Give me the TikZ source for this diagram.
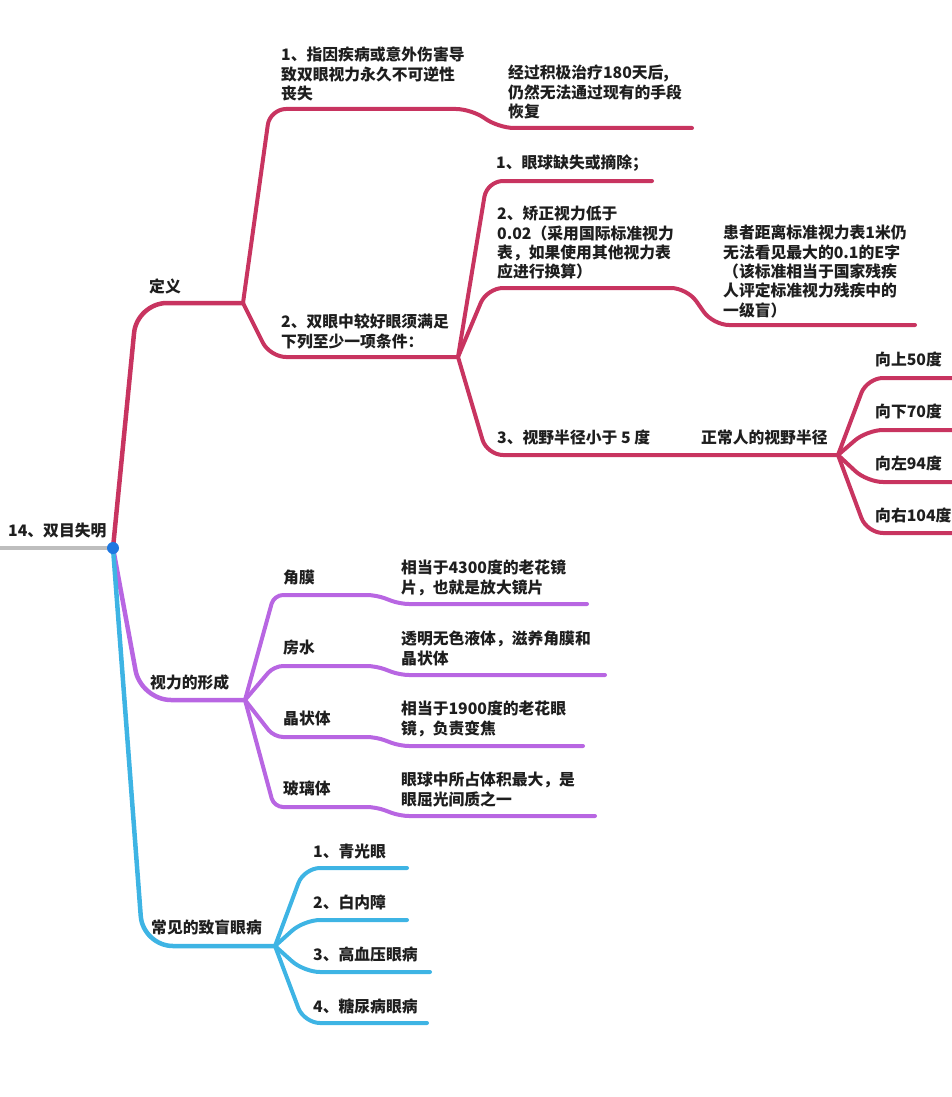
\documentclass[tikz,border=0pt]{standalone}
\usepackage{fontspec}
\setmainfont{Noto Sans CJK SC}
\definecolor{cr}{RGB}{200,52,96}
\definecolor{pu}{RGB}{184,102,226}
\definecolor{bl}{RGB}{62,180,228}
\definecolor{grl}{RGB}{190,190,190}
\definecolor{dotc}{RGB}{30,120,225}
\definecolor{ink}{RGB}{30,30,30}
\tikzset{
  txt/.style={anchor=north west, inner sep=0pt, align=left, text=ink,
    font=\fontsize{15.8}{19.3}\selectfont\bfseries},
  br/.style={line width=4pt, line cap=round, line join=round, rounded corners=16pt},
  mainbr/.style={line width=4.5pt, line cap=round, line join=round, rounded corners=30pt},
  leafstep/.style={line width=4pt, line cap=round, line join=round, rounded corners=9pt},
}
\begin{document}
\begin{tikzpicture}[x=1pt,y=-1pt]
\useasboundingbox (0,0) rectangle (952,1097);
% ---------- coordinates ----------
\coordinate (G) at (0,548);
\coordinate (D) at (113,548);
\coordinate (J1) at (243,303);
\coordinate (J2) at (458,357);
\coordinate (J3) at (838,455);
\coordinate (JP) at (245,700);
\coordinate (JB) at (275,946);
% ---------- root ----------
\draw[grl, line width=4pt] (G) -- (D);
\node[txt] (root) at (8,523) {14、双目失明};
% ---------- 定义 ----------
\draw[cr, mainbr] (D) -- (137,303) -- (J1);
\node[txt] (dy) at (149,279) {定义};
\coordinate (e11) at (692,128);
\draw[cr, br] (J1) -- (270,109) -- (472,109) -- (498,128) -- (e11);
\node[txt] (d1) at (281,47) {1、指因疾病或意外伤害导\\致双眼视力永久不可逆性\\丧失};
\node[txt] (d1a) at (508,65) {经过积极治疗180天后,\\仍然无法通过现有的手段\\恢复};
\draw[cr, br] (J1) -- (270,357) -- (J2);
\node[txt] (d2) at (281,314) {2、双眼中较好眼须满足\\下列至少一项条件：};
\coordinate (e21) at (652,181);
\draw[cr, br] (J2) -- (487,181) -- (e21);
\node[txt] (d21) at (496,155) {1、眼球缺失或摘除；};
\coordinate (e22) at (915,325);
\draw[cr, br] (J2) -- (487,288) -- (687,288) -- (713,325) -- (e22);
\node[txt] (d22) at (497,206) {2、矫正视力低于\\0.02（采用国际标准视力\\表，如果使用其他视力表\\应进行换算）};
\node[txt] (d22a) at (723,225) {患者距离标准视力表1米仍\\无法看见最大的0.1的E字\\（该标准相当于国家残疾\\人评定标准视力残疾中的\\一级盲）};
\draw[cr, br] (J2) -- (487,455) -- (J3);
\node[txt] (d23) at (497,430) {3、视野半径小于 5 度};
\node[txt] (d23a) at (701,430) {正常人的视野半径};
\coordinate (e31) at (952,378);
\coordinate (e32) at (952,430);
\coordinate (e33) at (952,482);
\coordinate (e34) at (952,533);
\draw[cr, br] (J3) -- (867,378) -- (e31);
\draw[cr, br] (J3) -- (867,430) -- (e32);
\draw[cr, br] (J3) -- (867,482) -- (e33);
\draw[cr, br] (J3) -- (867,533) -- (e34);
\node[txt] (v1) at (875,352) {向上50度};
\node[txt] (v2) at (875,404) {向下70度};
\node[txt] (v3) at (875,456) {向左94度};
\node[txt] (v4) at (875,508) {向右104度};
% ---------- 视力的形成 ----------
\draw[pu, mainbr] (D) -- (141,700) -- (JP);
\node[txt] (sl) at (150,675) {视力的形成};
\coordinate (p1) at (587,604);
\coordinate (p2) at (605,675);
\coordinate (p3) at (583,746);
\coordinate (p4) at (595,816);
\draw[pu, leafstep] (JP) -- (274,595) -- (376,595) -- (400,604) -- (p1);
\draw[pu, leafstep] (JP) -- (274,666) -- (376,666) -- (400,675) -- (p2);
\draw[pu, leafstep] (JP) -- (274,737) -- (376,737) -- (400,746) -- (p3);
\draw[pu, leafstep] (JP) -- (274,807) -- (376,807) -- (400,816) -- (p4);
\node[txt] (jm) at (283,570) {角膜};
\node[txt] (fs) at (283,640) {房水};
\node[txt] (jz) at (283,711) {晶状体};
\node[txt] (bl) at (283,781) {玻璃体};
\node[txt] (jma) at (401,560) {相当于4300度的老花镜\\片，也就是放大镜片};
\node[txt] (fsa) at (401,631) {透明无色液体，滋养角膜和\\晶状体};
\node[txt] (jza) at (401,701) {相当于1900度的老花眼\\镜，负责变焦};
\node[txt] (bla) at (401,772) {眼球中所占体积最大，是\\眼屈光间质之一};
% ---------- 常见的致盲眼病 ----------
\draw[bl, mainbr] (D) -- (143,946) -- (JB);
\node[txt] (zm) at (151,920) {常见的致盲眼病};
\coordinate (b1) at (407,868);
\coordinate (b2) at (407,920);
\coordinate (b3) at (430,972);
\coordinate (b4) at (427,1023);
\draw[bl, br] (JB) -- (304,868) -- (b1);
\draw[bl, br] (JB) -- (304,920) -- (b2);
\draw[bl, br] (JB) -- (304,972) -- (b3);
\draw[bl, br] (JB) -- (304,1023) -- (b4);
\node[txt] (q1) at (313,844) {1、青光眼};
\node[txt] (q2) at (313,895) {2、白内障};
\node[txt] (q3) at (313,947) {3、高血压眼病};
\node[txt] (q4) at (313,999) {4、糖尿病眼病};
% ---------- dot ----------
\fill[dotc] (D) circle (6pt);
\end{tikzpicture}
\end{document}
